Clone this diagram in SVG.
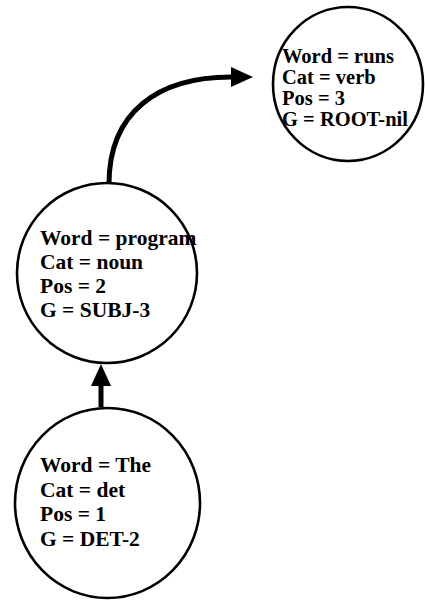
<svg xmlns="http://www.w3.org/2000/svg" width="425" height="601" viewBox="0 0 425 601">
  <style>
    .node { fill: none; stroke: #000; stroke-width: 2.6; }
    .label { font-family: "Liberation Serif", "Times New Roman", serif; font-weight: bold; font-size: 21.5px; fill: #000; }
    .small { font-size: 20.5px; }
    .edge { fill: none; stroke: #000; stroke-width: 5; }
  </style>
  <defs>
    <marker id="arrow" markerUnits="userSpaceOnUse" viewBox="0 -11 23 22" markerWidth="23" markerHeight="22" refX="0" refY="0" orient="auto">
      <path d="M0,-10 L22,0 L0,10 Z" fill="#000"/>
    </marker>
  </defs>

  <!-- dependency arcs -->
  <g id="connectors">
    <path class="edge" d="M101,407 L101,386" marker-end="url(#arrow)"/>
    <path class="edge" d="M109,184 C109,112 158,77 231,77" marker-end="url(#arrow)"/>
  </g>

  <!-- word nodes -->
  <g id="node-runs">
    <ellipse class="node" cx="348" cy="84" rx="75" ry="77"/>
    <text class="label small" x="282" y="63">Word = runs</text>
    <text class="label small" x="282" y="84">Cat = verb</text>
    <text class="label small" x="282" y="105">Pos = 3</text>
    <text class="label small" x="282" y="126">G = ROOT-nil</text>
  </g>

  <g id="node-program">
    <ellipse class="node" cx="107" cy="273" rx="90" ry="90"/>
    <text class="label" x="40" y="245">Word = program</text>
    <text class="label" x="40" y="269">Cat = noun</text>
    <text class="label" x="40" y="293">Pos = 2</text>
    <text class="label" x="40" y="317">G = SUBJ-3</text>
  </g>

  <g id="node-the">
    <ellipse class="node" cx="107.5" cy="503" rx="92.5" ry="95"/>
    <text class="label" x="40" y="472">Word = The</text>
    <text class="label" x="40" y="497">Cat = det</text>
    <text class="label" x="40" y="521">Pos = 1</text>
    <text class="label" x="40" y="546">G = DET-2</text>
  </g>
</svg>
